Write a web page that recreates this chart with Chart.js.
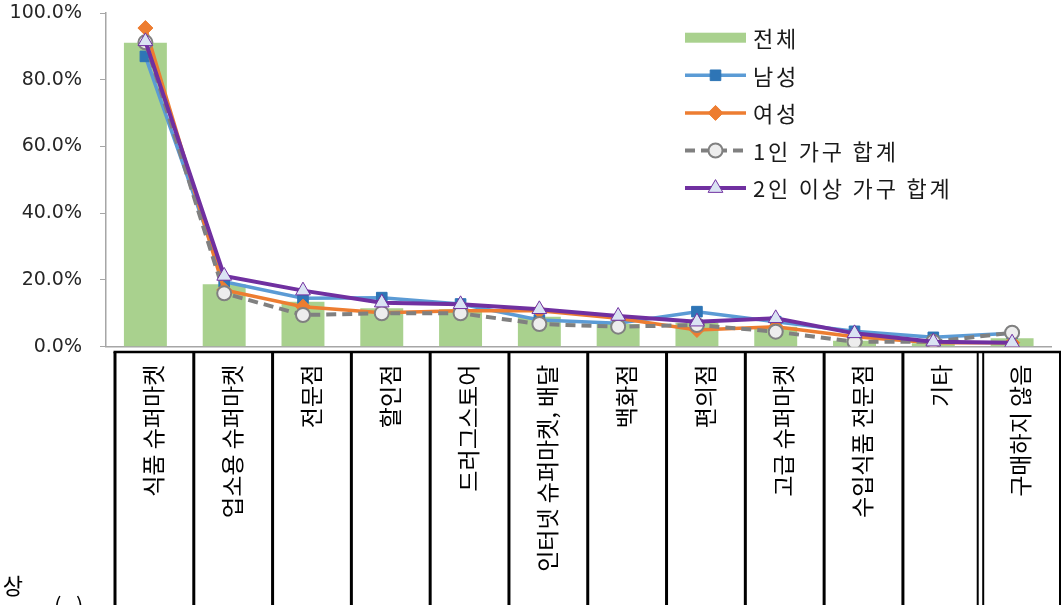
<!DOCTYPE html>
<html lang="ko">
<head>
<meta charset="UTF-8">
<title>구매 장소</title>
<script src="https://cdn.jsdelivr.net/npm/chart.js"></script>
<style>
  html, body { margin: 0; padding: 0; background: #fff; }
  #wrap { width: 1061px; height: 605px; overflow: hidden; }
</style>
</head>
<body>
<div id="wrap"><canvas id="chart" width="1061" height="605"></canvas></div>
<script>
const categories = [
  '식품 슈퍼마켓', '업소용 슈퍼마켓', '전문점', '할인점', '드러그스토어',
  '인터넷 슈퍼마켓, 배달', '백화점', '편의점', '고급 슈퍼마켓',
  '수입식품 전문점', '기타', '구매하지 않음'
];
const seriesNames = ['전체', '남성', '여성', '1인 가구 합계', '2인 이상 가구 합계'];

const total  = [91.1, 18.7, 13.5, 11.5, 11.2, 9.0, 6.8, 7.2, 6.0, 1.8, 1.0, 2.5];
const male   = [87.0, 19.5, 14.5, 14.7, 12.8, 8.0, 7.0, 10.5, 7.5, 4.6, 2.8, 4.0];
const female = [95.5, 17.0, 12.0, 10.2, 10.8, 10.8, 8.5, 5.0, 6.0, 3.0, 1.2, 1.2];
const single = [91.2, 16.0, 9.5, 10.0, 10.0, 6.8, 6.0, 6.5, 4.5, 1.5, 1.5, 4.2];
const multi  = [91.5, 21.2, 16.8, 13.2, 12.7, 11.2, 9.2, 7.5, 8.5, 4.0, 1.5, 1.2];

const yTicks = [0, 20, 40, 60, 80, 100];

const KR = "'Noto Sans CJK KR', 'Noto Sans', sans-serif";

// boxed label table under the x axis, plus the cut-off caption at the left
const labelTable = {
  id: 'labelTable',
  afterDraw(chart) {
    const xs = chart.scales.x;
    const ctx = chart.ctx;
    const band = xs.getPixelForValue(1) - xs.getPixelForValue(0);
    const shift = 9;
    const top = 352;
    const bottom = chart.height;
    ctx.save();
    ctx.strokeStyle = '#000';
    ctx.lineWidth = 2.5;
    ctx.beginPath();
    ctx.moveTo(xs.left + shift - 1.5, top);
    ctx.lineTo(chart.width, top);
    ctx.stroke();
    ctx.lineWidth = 3;
    for (let k = 0; k <= categories.length; k++) {
      const x = xs.left + shift + k * band;
      ctx.beginPath();
      if (k === categories.length - 1) {
        ctx.lineWidth = 2;
        ctx.moveTo(x - 4, top); ctx.lineTo(x - 4, bottom);
        ctx.moveTo(x + 1.5, top); ctx.lineTo(x + 1.5, bottom);
        ctx.stroke();
        ctx.lineWidth = 3;
        continue;
      }
      ctx.moveTo(x, top);
      ctx.lineTo(x, bottom);
      ctx.stroke();
    }
    ctx.fillStyle = '#000';
    ctx.font = '22px ' + KR;
    ctx.textBaseline = 'middle';
    ctx.textAlign = 'right';
    ctx.fillText('이상', 23, 586);
    ctx.textAlign = 'left';
    ctx.textBaseline = 'top';
    ctx.fillText('(', 54, 596);
    ctx.fillText(')', 76, 596);
    ctx.restore();
  }
};

// legend stacked at the upper right
const sideLegend = {
  id: 'sideLegend',
  afterDraw(chart) {
    const ctx = chart.ctx;
    const x0 = 685, x1 = 746, tx = 753;
    chart.data.datasets.forEach((ds, i) => {
      const y = 37.7 + i * 37.6;
      ctx.save();
      if (ds.type === 'bar') {
        ctx.fillStyle = ds.backgroundColor;
        ctx.fillRect(x0, y - 5, x1 - x0, 10);
      } else {
        ctx.strokeStyle = ds.borderColor;
        ctx.lineWidth = ds.borderWidth;
        ctx.setLineDash(ds.borderDash || []);
        ctx.beginPath();
        ctx.moveTo(x0, y);
        ctx.lineTo(x1, y);
        ctx.stroke();
        ctx.setLineDash([]);
        ctx.fillStyle = ds.pointBackgroundColor;
        ctx.strokeStyle = ds.pointBorderColor;
        ctx.lineWidth = ds.pointBorderWidth;
        Chart.helpers.drawPoint(ctx, {
          pointStyle: ds.pointStyle,
          radius: ds.pointRadius,
          borderWidth: ds.pointBorderWidth
        }, (x0 + x1) / 2, y);
      }
      ctx.fillStyle = '#1a1a1a';
      ctx.font = '22px ' + KR;
      ctx.letterSpacing = '2.8px';
      ctx.textBaseline = 'middle';
      ctx.textAlign = 'left';
      ctx.fillText(ds.label, tx, y + 1);
      ctx.restore();
    });
  }
};

new Chart(document.getElementById('chart'), {
  type: 'bar',
  data: {
    labels: categories,
    datasets: [
      {
        type: 'bar', label: seriesNames[0], data: total,
        backgroundColor: '#a9d18e',
        barPercentage: 0.545, categoryPercentage: 1, order: 5
      },
      {
        type: 'line', label: seriesNames[1], data: male,
        borderColor: '#5b9bd5', borderWidth: 3.5,
        pointStyle: 'rect', pointRadius: 7.5,
        pointBackgroundColor: '#2e75b6', pointBorderColor: '#2e75b6', pointBorderWidth: 1,
        order: 4
      },
      {
        type: 'line', label: seriesNames[2], data: female,
        borderColor: '#ed7d31', borderWidth: 3.5,
        pointStyle: 'rectRot', pointRadius: 7.5,
        pointBackgroundColor: '#ed7d31', pointBorderColor: '#ed7d31', pointBorderWidth: 1,
        order: 3
      },
      {
        type: 'line', label: seriesNames[3], data: single,
        borderColor: '#808080', borderWidth: 4, borderDash: [10, 6],
        pointStyle: 'circle', pointRadius: 7,
        pointBackgroundColor: '#ededed', pointBorderColor: '#808080', pointBorderWidth: 2,
        order: 2
      },
      {
        type: 'line', label: seriesNames[4], data: multi,
        borderColor: '#7030a0', borderWidth: 4,
        pointStyle: 'triangle', pointRadius: 8.5,
        pointBackgroundColor: '#dae3f3', pointBorderColor: '#7030a0', pointBorderWidth: 1,
        order: 1
      }
    ]
  },
  options: {
    responsive: false,
    animation: false,
    layout: { padding: { left: 0, right: 7, top: 13, bottom: 0 } },
    plugins: {
      legend: { display: false },
      tooltip: { enabled: false }
    },
    scales: {
      x: {
        offset: true,
        grid: { display: false },
        border: { display: true, color: '#a6a6a6', width: 1.5 },
        ticks: {
          autoSkip: false, maxRotation: 90, minRotation: 90,
          padding: 10, labelOffset: 8, color: '#000',
          font: { family: KR, size: 23 }
        },
        afterFit(scale) { scale.height = 605 - 346.7; }
      },
      y: {
        min: 0, max: 100,
        afterBuildTicks(scale) { scale.ticks = yTicks.map(v => ({ value: v })); },
        grid: { drawOnChartArea: false, drawTicks: true, tickLength: 6, color: '#a6a6a6' },
        border: { color: '#a6a6a6', width: 1.5 },
        ticks: {
          padding: 18, color: '#262626',
          font: { family: "'DejaVu Sans', sans-serif", size: 19 },
          callback: v => Number(v).toFixed(1) + '%'
        },
        afterFit(scale) {
          scale.width = 106;
          scale.paddingTop = 0;
          scale.paddingBottom = 0;
        }
      }
    }
  },
  plugins: [labelTable, sideLegend]
});
</script>
</body>
</html>
